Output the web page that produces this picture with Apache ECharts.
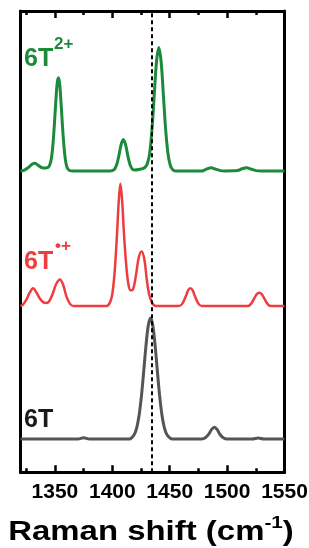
<!DOCTYPE html>
<html><head><meta charset="utf-8">
<script src="https://cdn.jsdelivr.net/npm/echarts@6/dist/echarts.min.js"></script>
<style>html,body{margin:0;padding:0;background:#fff}#c{width:309px;height:548px}</style>
</head><body><div id="c"></div>
<script>
// ---- data (Raman shift in cm^-1, intensity in a.u.) ----
const xMin = 1320, xMax = 1550;
const majorTicks = [1350, 1400, 1450, 1500, 1550];
const minorTicks = [1325, 1375, 1425, 1475, 1525];
const refLine = 1434;
const offsets = { t2: 2.49, t1: 1.374, t0: 0.275 };
const yMax = 3.812;

// 6T2+ (green)
const spec6T2 = [
  [1320,0],[1323,0.005],[1327,0.03],[1330,0.055],[1332.5,0.063],[1335,0.05],[1338,0.03],[1340,0.025],
  [1342,0.025],[1344,0.03],[1345,0.04],[1346,0.065],[1347,0.11],[1348,0.19],[1349,0.31],[1350,0.46],
  [1351,0.61],[1352,0.73],[1353,0.77],[1354,0.73],[1355,0.61],[1356,0.46],[1357,0.31],[1358,0.19],
  [1359,0.10],[1360,0.048],[1361,0.021],[1363,0.003],[1366,0],[1398,0],[1401.6,0.012],[1403.6,0.047],
  [1405.6,0.121],[1407.6,0.215],[1409.6,0.26],[1411.6,0.215],[1413.6,0.121],[1415.6,0.047],[1417.6,0.014],
  [1420,0.008],[1424,0.015],[1426.5,0.02],[1428.5,0.03],[1430.5,0.06],[1432.5,0.142],[1434.5,0.337],
  [1436.5,0.624],[1438.5,0.903],[1440.5,1.02],[1442.5,0.903],[1444.5,0.624],[1446.5,0.337],[1448.5,0.142],
  [1450.5,0.047],[1452.5,0.012],[1455,0],[1478,0],[1482,0.015],[1486,0.027],[1490,0.015],[1494,0.003],
  [1498,0],[1509,0.003],[1513,0.018],[1517,0.027],[1521,0.015],[1525,0.003],[1530,0],[1550,0]
];
// 6T•+ (red)
const spec6T1 = [
  [1320,0],[1322,0.01],[1325,0.05],[1328,0.11],[1331,0.146],[1334,0.11],[1337,0.06],[1340,0.03],
  [1342.5,0.025],[1345,0.04],[1348,0.10],[1351,0.18],[1354.4,0.22],[1357,0.18],[1360,0.08],[1363,0.02],
  [1366,0],[1395,0],[1398,0.03],[1400,0.10],[1402,0.28],[1404,0.58],[1405.5,0.85],[1407,1.01],
  [1408.5,0.88],[1410,0.62],[1412,0.35],[1414,0.18],[1416,0.13],[1417.3,0.13],[1419,0.17],[1421,0.28],
  [1423,0.40],[1425.5,0.45],[1428,0.38],[1430,0.22],[1432,0.10],[1434,0.04],[1436,0.01],[1438,0],
  [1458,0],[1461,0.02],[1464,0.08],[1466,0.13],[1468,0.146],[1470,0.13],[1472,0.08],[1475,0.02],[1478,0],
  [1518,0],[1521,0.02],[1524,0.07],[1526,0.10],[1528,0.11],[1530,0.10],[1532,0.07],[1535,0.02],[1538,0],
  [1550,0]
];
// 6T (grey)
const spec6T0 = [
  [1320,0],[1370,0],[1375,0.01],[1380,0],[1415,0],[1417.3,0.015],[1419.3,0.04],[1421.3,0.094],
  [1423.3,0.194],[1425.3,0.35],[1427.3,0.554],[1429.3,0.769],[1431.3,0.936],[1433.3,1.0],[1435.3,0.936],
  [1437.3,0.769],[1439.3,0.554],[1441.3,0.35],[1443.3,0.194],[1445.3,0.094],[1447.3,0.04],[1449.3,0.015],
  [1452,0],[1478,0],[1481,0.01],[1484,0.04],[1486.5,0.08],[1489,0.097],[1491.5,0.075],[1494,0.035],
  [1497,0.008],[1500,0],[1522,0],[1527,0.008],[1532,0],[1550,0]
];
const labels = { t2: ['6T', '2+'], t1: ['6T', '•+'], t0: ['6T'] };
const xTitle = ['Raman shift (cm', '-1', ')'];

// ---- chart ----
const C_GREEN = '#1c8a3b', C_RED = '#ee3d40', C_GREY = '#555555';
const FONT = 'Liberation Sans, Arial, sans-serif';
const shift = (arr, off) => arr.map(p => [p[0], p[1] + off]);
const AXW = 3;

function xAx(position, ticks, len, showLabel, showLine) {
  return {
    type: 'value', position, min: xMin, max: xMax,
    axisLine: { show: showLine, onZero: false, lineStyle: { color: '#000', width: AXW } },
    splitLine: { show: false },
    axisTick: { show: true, inside: true, length: len, customValues: ticks,
      lineStyle: { color: '#000', width: 2.5 } },
    axisLabel: { show: showLabel, customValues: ticks, margin: 9,
      formatter: v => String(v),
      fontFamily: FONT, fontWeight: 'bold', fontSize: 21, color: '#000' }
  };
}
function yAx(position) {
  return { type: 'value', position, min: 0, max: yMax,
    axisLine: { show: true, onZero: false, lineStyle: { color: '#000', width: AXW } },
    axisTick: { show: false }, axisLabel: { show: false }, splitLine: { show: false } };
}

const chart = echarts.init(document.getElementById('c'), null, { renderer: 'canvas' });
const lineSeries = (name, data, color, width) => ({
  name, type: 'line', data, showSymbol: false, symbol: 'none', smooth: 0.35,
  lineStyle: { color, width }, silent: true, z: 3
});
chart.setOption({
  animation: false,
  grid: { left: 20.5, right: 24.5, top: 11, bottom: 75.7, show: false, outerBoundsMode: 'none', containLabel: false },
  xAxis: [
    xAx('bottom', majorTicks, 7, true, true),
    xAx('bottom', minorTicks, 4, false, false),
    xAx('top', majorTicks, 7, false, true),
    xAx('top', minorTicks, 4, false, false)
  ],
  yAxis: [yAx('left'), yAx('right')],
  series: [
    lineSeries('6T2+', shift(spec6T2, offsets.t2), C_GREEN, 3),
    lineSeries('6T•+', shift(spec6T1, offsets.t1), C_RED, 2.5),
    lineSeries('6T', shift(spec6T0, offsets.t0), C_GREY, 3),
    { type: 'line', data: [], silent: true, z: 10,
      markLine: { silent: true, symbol: 'none', animation: false,
        label: { show: false },
        lineStyle: { color: '#000', width: 2, type: [4, 3] },
        data: [{ xAxis: refLine }] } }
  ],
  graphic: [
    { type: 'text', x: 24, y: 59, style: { text: labels.t2[0], font: 'bold 25px ' + FONT, fill: C_GREEN, verticalAlign: 'middle' } },
    { type: 'text', x: 54, y: 44.5, style: { text: labels.t2[1], font: 'bold 17px ' + FONT, fill: C_GREEN, verticalAlign: 'middle' } },
    { type: 'text', x: 24, y: 262, style: { text: labels.t1[0], font: 'bold 25px ' + FONT, fill: C_RED, verticalAlign: 'middle' } },
    { type: 'text', x: 55, y: 246, style: { text: labels.t1[1], font: 'bold 17px ' + FONT, fill: C_RED, verticalAlign: 'middle' } },
    { type: 'text', x: 24, y: 420, style: { text: labels.t0[0], font: 'bold 25px ' + FONT, fill: '#1a1a1a', verticalAlign: 'middle' } },
    { type: 'text', x: 151, y: 533, scaleX: 1.22, style: {
        text: '{a|' + xTitle[0] + '}{s|' + xTitle[1] + '}{a|' + xTitle[2] + '}',
        align: 'center', verticalAlign: 'middle',
        rich: { a: { font: 'bold 27px ' + FONT, fill: '#000', lineHeight: 36 },
                s: { font: 'bold 17px ' + FONT, fill: '#000', verticalAlign: 'top', lineHeight: 22 } } } }
  ]
});
</script></body></html>
